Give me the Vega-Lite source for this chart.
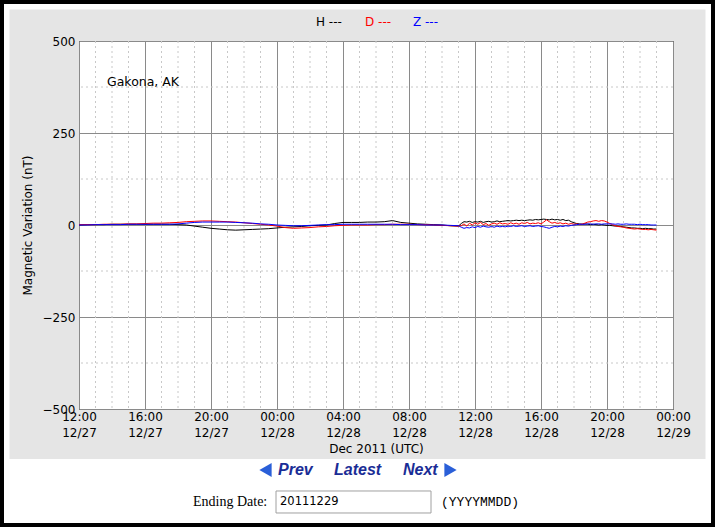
{
  "$schema": "https://vega.github.io/schema/vega-lite/v6.json",
  "autosize": {"type": "none"},
  "width": 594,
  "height": 368,
  "padding": {"left": 79, "top": 41, "right": 42, "bottom": 118},
  "background": "#e5e5e5",
  "config": {
    "view": {"stroke": "black", "strokeWidth": 1, "fill": "white"},
    "font": "DejaVu Sans"
  },
  "layer": [
    {
      "data": {"values": [
        {"t": "2011-12-27T13:00:00Z"}, {"t": "2011-12-27T14:00:00Z"}, {"t": "2011-12-27T15:00:00Z"},
        {"t": "2011-12-27T17:00:00Z"}, {"t": "2011-12-27T18:00:00Z"}, {"t": "2011-12-27T19:00:00Z"},
        {"t": "2011-12-27T21:00:00Z"}, {"t": "2011-12-27T22:00:00Z"}, {"t": "2011-12-27T23:00:00Z"},
        {"t": "2011-12-28T01:00:00Z"}, {"t": "2011-12-28T02:00:00Z"}, {"t": "2011-12-28T03:00:00Z"},
        {"t": "2011-12-28T05:00:00Z"}, {"t": "2011-12-28T06:00:00Z"}, {"t": "2011-12-28T07:00:00Z"},
        {"t": "2011-12-28T09:00:00Z"}, {"t": "2011-12-28T10:00:00Z"}, {"t": "2011-12-28T11:00:00Z"},
        {"t": "2011-12-28T13:00:00Z"}, {"t": "2011-12-28T14:00:00Z"}, {"t": "2011-12-28T15:00:00Z"},
        {"t": "2011-12-28T17:00:00Z"}, {"t": "2011-12-28T18:00:00Z"}, {"t": "2011-12-28T19:00:00Z"},
        {"t": "2011-12-28T21:00:00Z"}, {"t": "2011-12-28T22:00:00Z"}, {"t": "2011-12-28T23:00:00Z"}
      ]},
      "mark": {"type": "rule", "color": "#c8c8c8", "strokeWidth": 1, "strokeDash": [2, 3]},
      "encoding": {"x": {"field": "t", "type": "temporal"}}
    },
    {
      "data": {"values": [{"v": -375}, {"v": -125}, {"v": 125}, {"v": 375}]},
      "mark": {"type": "rule", "color": "#c8c8c8", "strokeWidth": 1, "strokeDash": [2, 3]},
      "encoding": {"y": {"field": "v", "type": "quantitative"}}
    },
    {
      "data": {
        "values": [
          {"t": "2011-12-27T12:00:00Z", "H": 0, "D": 1, "Z": 0},
          {"t": "2011-12-27T12:30:00Z", "H": 1, "D": 1, "Z": 0},
          {"t": "2011-12-27T13:00:00Z", "H": 1, "D": 1, "Z": 1},
          {"t": "2011-12-27T13:30:00Z", "H": 1, "D": 2, "Z": 1},
          {"t": "2011-12-27T14:00:00Z", "H": 2, "D": 2, "Z": 1},
          {"t": "2011-12-27T14:30:00Z", "H": 2, "D": 2, "Z": 1},
          {"t": "2011-12-27T15:00:00Z", "H": 2, "D": 3, "Z": 2},
          {"t": "2011-12-27T15:30:00Z", "H": 2, "D": 3, "Z": 2},
          {"t": "2011-12-27T16:00:00Z", "H": 2, "D": 4, "Z": 2},
          {"t": "2011-12-27T16:30:00Z", "H": 2, "D": 5, "Z": 2},
          {"t": "2011-12-27T17:00:00Z", "H": 2, "D": 5, "Z": 2},
          {"t": "2011-12-27T17:30:00Z", "H": 2, "D": 6, "Z": 2},
          {"t": "2011-12-27T18:00:00Z", "H": 1, "D": 7, "Z": 3},
          {"t": "2011-12-27T18:30:00Z", "H": 0, "D": 9, "Z": 5},
          {"t": "2011-12-27T19:00:00Z", "H": -3, "D": 10, "Z": 7},
          {"t": "2011-12-27T19:30:00Z", "H": -6, "D": 11, "Z": 8},
          {"t": "2011-12-27T20:00:00Z", "H": -9, "D": 11, "Z": 8},
          {"t": "2011-12-27T20:30:00Z", "H": -11, "D": 10, "Z": 8},
          {"t": "2011-12-27T21:00:00Z", "H": -13, "D": 9, "Z": 8},
          {"t": "2011-12-27T21:30:00Z", "H": -14, "D": 8, "Z": 7},
          {"t": "2011-12-27T22:00:00Z", "H": -13, "D": 6, "Z": 6},
          {"t": "2011-12-27T22:30:00Z", "H": -12, "D": 4, "Z": 5},
          {"t": "2011-12-27T23:00:00Z", "H": -11, "D": 2, "Z": 3},
          {"t": "2011-12-27T23:30:00Z", "H": -10, "D": 0, "Z": 2},
          {"t": "2011-12-28T00:00:00Z", "H": -8, "D": -3, "Z": 0},
          {"t": "2011-12-28T00:30:00Z", "H": -6, "D": -7, "Z": -1},
          {"t": "2011-12-28T01:00:00Z", "H": -5, "D": -9, "Z": -2},
          {"t": "2011-12-28T01:30:00Z", "H": -4, "D": -8, "Z": -2},
          {"t": "2011-12-28T02:00:00Z", "H": -2, "D": -7, "Z": -1},
          {"t": "2011-12-28T02:30:00Z", "H": -1, "D": -5, "Z": 0},
          {"t": "2011-12-28T03:00:00Z", "H": 0, "D": -4, "Z": 1},
          {"t": "2011-12-28T03:30:00Z", "H": 4, "D": -2, "Z": 1},
          {"t": "2011-12-28T04:00:00Z", "H": 7, "D": -1, "Z": 2},
          {"t": "2011-12-28T04:30:00Z", "H": 7, "D": 0, "Z": 2},
          {"t": "2011-12-28T05:00:00Z", "H": 7, "D": 0, "Z": 2},
          {"t": "2011-12-28T05:30:00Z", "H": 8, "D": 0, "Z": 2},
          {"t": "2011-12-28T06:00:00Z", "H": 8, "D": 1, "Z": 2},
          {"t": "2011-12-28T06:30:00Z", "H": 9, "D": 1, "Z": 2},
          {"t": "2011-12-28T07:00:00Z", "H": 12, "D": 2, "Z": 2},
          {"t": "2011-12-28T07:30:00Z", "H": 7, "D": 2, "Z": 1},
          {"t": "2011-12-28T08:00:00Z", "H": 5, "D": 2, "Z": 1},
          {"t": "2011-12-28T08:30:00Z", "H": 3, "D": 1, "Z": 1},
          {"t": "2011-12-28T09:00:00Z", "H": 2, "D": 1, "Z": 0},
          {"t": "2011-12-28T09:30:00Z", "H": 1, "D": 0, "Z": 0},
          {"t": "2011-12-28T10:00:00Z", "H": 0, "D": -1, "Z": 0},
          {"t": "2011-12-28T10:30:00Z", "H": -2, "D": -2, "Z": -1},
          {"t": "2011-12-28T11:00:00Z", "H": -3, "D": -3, "Z": -2},
          {"t": "2011-12-28T11:10:00Z", "H": 4, "D": -2, "Z": -6},
          {"t": "2011-12-28T11:20:00Z", "H": 9, "D": 3, "Z": -9},
          {"t": "2011-12-28T11:30:00Z", "H": 8, "D": -3, "Z": -7},
          {"t": "2011-12-28T11:40:00Z", "H": 10, "D": 5, "Z": -8},
          {"t": "2011-12-28T11:50:00Z", "H": 7, "D": 0, "Z": -5},
          {"t": "2011-12-28T12:00:00Z", "H": 9, "D": 6, "Z": -7},
          {"t": "2011-12-28T12:10:00Z", "H": 8, "D": 2, "Z": -4},
          {"t": "2011-12-28T12:20:00Z", "H": 10, "D": 7, "Z": -6},
          {"t": "2011-12-28T12:30:00Z", "H": 7, "D": 1, "Z": -3},
          {"t": "2011-12-28T12:40:00Z", "H": 9, "D": 4, "Z": -5},
          {"t": "2011-12-28T12:50:00Z", "H": 10, "D": -1, "Z": -6},
          {"t": "2011-12-28T13:00:00Z", "H": 8, "D": 3, "Z": -4},
          {"t": "2011-12-28T13:10:00Z", "H": 9, "D": 5, "Z": -6},
          {"t": "2011-12-28T13:20:00Z", "H": 11, "D": 2, "Z": -3},
          {"t": "2011-12-28T13:30:00Z", "H": 9, "D": 6, "Z": -5},
          {"t": "2011-12-28T13:40:00Z", "H": 10, "D": 3, "Z": -4},
          {"t": "2011-12-28T13:50:00Z", "H": 11, "D": 4, "Z": -5},
          {"t": "2011-12-28T14:00:00Z", "H": 12, "D": 2, "Z": -3},
          {"t": "2011-12-28T14:10:00Z", "H": 11, "D": 6, "Z": -4},
          {"t": "2011-12-28T14:20:00Z", "H": 12, "D": 3, "Z": -2},
          {"t": "2011-12-28T14:30:00Z", "H": 13, "D": 5, "Z": -4},
          {"t": "2011-12-28T14:40:00Z", "H": 12, "D": 2, "Z": -3},
          {"t": "2011-12-28T14:50:00Z", "H": 13, "D": 6, "Z": -2},
          {"t": "2011-12-28T15:00:00Z", "H": 12, "D": 4, "Z": -4},
          {"t": "2011-12-28T15:10:00Z", "H": 13, "D": 7, "Z": -3},
          {"t": "2011-12-28T15:20:00Z", "H": 14, "D": 3, "Z": -2},
          {"t": "2011-12-28T15:30:00Z", "H": 13, "D": 5, "Z": -4},
          {"t": "2011-12-28T15:40:00Z", "H": 15, "D": 4, "Z": -3},
          {"t": "2011-12-28T15:50:00Z", "H": 14, "D": 6, "Z": -2},
          {"t": "2011-12-28T16:00:00Z", "H": 15, "D": 3, "Z": -4},
          {"t": "2011-12-28T16:10:00Z", "H": 16, "D": 8, "Z": -5},
          {"t": "2011-12-28T16:20:00Z", "H": 15, "D": 14, "Z": -7},
          {"t": "2011-12-28T16:30:00Z", "H": 14, "D": 9, "Z": -9},
          {"t": "2011-12-28T16:40:00Z", "H": 16, "D": 5, "Z": -6},
          {"t": "2011-12-28T16:50:00Z", "H": 14, "D": 7, "Z": -4},
          {"t": "2011-12-28T17:00:00Z", "H": 15, "D": 4, "Z": -5},
          {"t": "2011-12-28T17:10:00Z", "H": 13, "D": 6, "Z": -3},
          {"t": "2011-12-28T17:20:00Z", "H": 15, "D": 3, "Z": -4},
          {"t": "2011-12-28T17:30:00Z", "H": 12, "D": 5, "Z": -2},
          {"t": "2011-12-28T17:40:00Z", "H": 13, "D": 2, "Z": -3},
          {"t": "2011-12-28T17:50:00Z", "H": 9, "D": 4, "Z": -1},
          {"t": "2011-12-28T18:00:00Z", "H": 6, "D": 2, "Z": 0},
          {"t": "2011-12-28T18:10:00Z", "H": 4, "D": 3, "Z": 1},
          {"t": "2011-12-28T18:20:00Z", "H": 3, "D": 1, "Z": 2},
          {"t": "2011-12-28T18:30:00Z", "H": 2, "D": 3, "Z": 2},
          {"t": "2011-12-28T18:40:00Z", "H": 3, "D": 5, "Z": 2},
          {"t": "2011-12-28T18:50:00Z", "H": 2, "D": 8, "Z": 3},
          {"t": "2011-12-28T19:00:00Z", "H": 1, "D": 9, "Z": 3},
          {"t": "2011-12-28T19:10:00Z", "H": 2, "D": 11, "Z": 2},
          {"t": "2011-12-28T19:20:00Z", "H": 1, "D": 12, "Z": 3},
          {"t": "2011-12-28T19:30:00Z", "H": 0, "D": 10, "Z": 3},
          {"t": "2011-12-28T19:40:00Z", "H": 1, "D": 12, "Z": 2},
          {"t": "2011-12-28T19:50:00Z", "H": 0, "D": 11, "Z": 3},
          {"t": "2011-12-28T20:00:00Z", "H": -1, "D": 8, "Z": 3},
          {"t": "2011-12-28T20:10:00Z", "H": -1, "D": 4, "Z": 3},
          {"t": "2011-12-28T20:20:00Z", "H": -2, "D": 1, "Z": 3},
          {"t": "2011-12-28T20:30:00Z", "H": -3, "D": -2, "Z": 2},
          {"t": "2011-12-28T20:40:00Z", "H": -3, "D": -4, "Z": 3},
          {"t": "2011-12-28T20:50:00Z", "H": -4, "D": -5, "Z": 2},
          {"t": "2011-12-28T21:00:00Z", "H": -5, "D": -6, "Z": 2},
          {"t": "2011-12-28T21:10:00Z", "H": -6, "D": -8, "Z": 3},
          {"t": "2011-12-28T21:20:00Z", "H": -7, "D": -9, "Z": 2},
          {"t": "2011-12-28T21:30:00Z", "H": -8, "D": -10, "Z": 2},
          {"t": "2011-12-28T21:40:00Z", "H": -8, "D": -11, "Z": 2},
          {"t": "2011-12-28T21:50:00Z", "H": -9, "D": -10, "Z": 1},
          {"t": "2011-12-28T22:00:00Z", "H": -9, "D": -11, "Z": 2},
          {"t": "2011-12-28T22:10:00Z", "H": -10, "D": -12, "Z": 1},
          {"t": "2011-12-28T22:20:00Z", "H": -9, "D": -12, "Z": 1},
          {"t": "2011-12-28T22:30:00Z", "H": -10, "D": -13, "Z": 1},
          {"t": "2011-12-28T22:40:00Z", "H": -10, "D": -12, "Z": 0},
          {"t": "2011-12-28T22:50:00Z", "H": -11, "D": -13, "Z": 0},
          {"t": "2011-12-28T23:00:00Z", "H": -11, "D": -14, "Z": 0}
        ]
      },
      "transform": [{"fold": ["H", "D", "Z"], "as": ["comp", "v"]}],
      "mark": {"type": "line", "strokeWidth": 1},
      "encoding": {
        "x": {
          "field": "t", "type": "temporal",
          "scale": {"type": "utc", "domain": [
            {"year": 2011, "month": 12, "date": 27, "hours": 12, "utc": true},
            {"year": 2011, "month": 12, "date": 29, "hours": 0, "utc": true}
          ]},
          "axis": {
            "title": "Dec 2011 (UTC)",
            "values": [
              {"year": 2011, "month": 12, "date": 27, "hours": 12, "utc": true},
              {"year": 2011, "month": 12, "date": 27, "hours": 16, "utc": true},
              {"year": 2011, "month": 12, "date": 27, "hours": 20, "utc": true},
              {"year": 2011, "month": 12, "date": 28, "hours": 0, "utc": true},
              {"year": 2011, "month": 12, "date": 28, "hours": 4, "utc": true},
              {"year": 2011, "month": 12, "date": 28, "hours": 8, "utc": true},
              {"year": 2011, "month": 12, "date": 28, "hours": 12, "utc": true},
              {"year": 2011, "month": 12, "date": 28, "hours": 16, "utc": true},
              {"year": 2011, "month": 12, "date": 28, "hours": 20, "utc": true},
              {"year": 2011, "month": 12, "date": 29, "hours": 0, "utc": true}
            ],
            "labelExpr": "[utcFormat(datum.value, '%H:%M'), utcFormat(datum.value, '%m/%d')]",
            "labelFlush": false, "labelOverlap": false, "labelBound": false,
            "ticks": false, "domain": false, "grid": true,
            "gridColor": "#8a8a8a",
            "labelFont": "DejaVu Sans", "labelFontSize": 12, "labelColor": "black", "labelLineHeight": 16, "labelPadding": 2,
            "titleFont": "DejaVu Sans", "titleFontSize": 12, "titleFontWeight": "normal", "titleColor": "black", "titlePadding": 5
          }
        },
        "y": {
          "field": "v", "type": "quantitative",
          "scale": {"domain": [-500, 500], "nice": false, "zero": false},
          "axis": {
            "title": "Magnetic Variation (nT)",
            "values": [-500, -250, 0, 250, 500],
            "labelExpr": "datum.value < 0 ? '\u2212' + abs(datum.value) : '' + datum.value",
            "labelOverlap": false, "labelBound": false, "labelFlush": false,
            "ticks": false, "domain": false, "grid": true,
            "gridColor": "#8a8a8a",
            "labelFont": "DejaVu Sans", "labelFontSize": 12, "labelColor": "black", "labelPadding": 4,
            "titleFont": "DejaVu Sans", "titleFontSize": 12, "titleFontWeight": "normal", "titleColor": "black", "titlePadding": 8
          }
        },
        "color": {
          "field": "comp", "type": "nominal",
          "scale": {"domain": ["H", "D", "Z"], "range": ["black", "red", "blue"]},
          "legend": null
        }
      }
    },
    {
      "data": {"values": [{}]},
      "mark": {"type": "rect", "fill": "white", "strokeWidth": 0},
      "encoding": {
        "x": {"datum": {"year": 2011, "month": 12, "date": 27, "hours": 7, "minutes": 12, "seconds": 44, "utc": true}, "type": "temporal"},
        "x2": {"datum": {"year": 2011, "month": 12, "date": 29, "hours": 2, "minutes": 32, "seconds": 44, "utc": true}},
        "y": {"datum": -635.9, "type": "quantitative"},
        "y2": {"datum": -820.7}
      }
    },
    {
      "data": {"values": [{}]},
      "mark": {"type": "rect", "filled": false, "stroke": "white", "strokeWidth": 19},
      "encoding": {
        "x": {"datum": {"year": 2011, "month": 12, "date": 27, "hours": 7, "minutes": 12, "seconds": 44, "utc": true}, "type": "temporal"},
        "x2": {"datum": {"year": 2011, "month": 12, "date": 29, "hours": 2, "minutes": 32, "seconds": 44, "utc": true}},
        "y": {"datum": 611.4, "type": "quantitative"},
        "y2": {"datum": -820.7}
      }
    },
    {
      "data": {"values": [{}]},
      "mark": {"type": "rect", "filled": false, "stroke": "black", "strokeWidth": 8},
      "encoding": {
        "x": {"datum": {"year": 2011, "month": 12, "date": 27, "hours": 7, "minutes": 12, "seconds": 44, "utc": true}, "type": "temporal"},
        "x2": {"datum": {"year": 2011, "month": 12, "date": 29, "hours": 2, "minutes": 32, "seconds": 44, "utc": true}},
        "y": {"datum": 611.4, "type": "quantitative"},
        "y2": {"datum": -820.7}
      }
    },
    {
      "data": {"values": [{"label": "Gakona, AK"}]},
      "mark": {"type": "text", "align": "left", "baseline": "middle", "font": "DejaVu Sans", "fontSize": 12.5, "color": "black"},
      "encoding": {
        "x": {"datum": {"year": 2011, "month": 12, "date": 27, "hours": 13, "minutes": 41, "seconds": 49, "utc": true}, "type": "temporal"},
        "y": {"datum": 388.6, "type": "quantitative"},
        "text": {"field": "label"}
      }
    },
    {
      "data": {"values": [{"label": "H ---"}]},
      "mark": {"type": "text", "align": "left", "baseline": "middle", "font": "DejaVu Sans", "fontSize": 12, "color": "black"},
      "encoding": {
        "x": {"datum": {"year": 2011, "month": 12, "date": 28, "hours": 2, "minutes": 21, "seconds": 49, "utc": true}, "type": "temporal"},
        "y": {"datum": 551.6, "type": "quantitative"},
        "text": {"field": "label"}
      }
    },
    {
      "data": {"values": [{"label": "D ---"}]},
      "mark": {"type": "text", "align": "left", "baseline": "middle", "font": "DejaVu Sans", "fontSize": 12, "color": "red"},
      "encoding": {
        "x": {"datum": {"year": 2011, "month": 12, "date": 28, "hours": 5, "minutes": 20, "seconds": 0, "utc": true}, "type": "temporal"},
        "y": {"datum": 551.6, "type": "quantitative"},
        "text": {"field": "label"}
      }
    },
    {
      "data": {"values": [{"label": "Z ---"}]},
      "mark": {"type": "text", "align": "left", "baseline": "middle", "font": "DejaVu Sans", "fontSize": 12, "color": "blue"},
      "encoding": {
        "x": {"datum": {"year": 2011, "month": 12, "date": 28, "hours": 8, "minutes": 14, "seconds": 33, "utc": true}, "type": "temporal"},
        "y": {"datum": 551.6, "type": "quantitative"},
        "text": {"field": "label"}
      }
    },
    {
      "data": {"values": [{}]},
      "mark": {"type": "point", "shape": "triangle-left", "filled": true, "size": 200, "color": "#2a5fd8", "opacity": 1},
      "encoding": {
        "x": {"datum": {"year": 2011, "month": 12, "date": 27, "hours": 23, "minutes": 18, "seconds": 11, "utc": true}, "type": "temporal"},
        "y": {"datum": -665.8, "type": "quantitative"}
      }
    },
    {
      "data": {"values": [{}]},
      "mark": {"type": "point", "shape": "triangle-right", "filled": true, "size": 200, "color": "#2a5fd8", "opacity": 1},
      "encoding": {
        "x": {"datum": {"year": 2011, "month": 12, "date": 28, "hours": 10, "minutes": 30, "seconds": 55, "utc": true}, "type": "temporal"},
        "y": {"datum": -665.8, "type": "quantitative"}
      }
    },
    {
      "data": {"values": [{"label": "Prev"}]},
      "mark": {"type": "text", "align": "left", "baseline": "middle", "font": "Liberation Sans", "fontSize": 16, "fontWeight": "bold", "fontStyle": "italic", "color": "#1a2d96"},
      "encoding": {
        "x": {"datum": {"year": 2011, "month": 12, "date": 28, "hours": 0, "minutes": 3, "seconds": 38, "utc": true}, "type": "temporal"},
        "y": {"datum": -665.8, "type": "quantitative"},
        "text": {"field": "label"}
      }
    },
    {
      "data": {"values": [{"label": "Latest"}]},
      "mark": {"type": "text", "align": "left", "baseline": "middle", "font": "Liberation Sans", "fontSize": 16, "fontWeight": "bold", "fontStyle": "italic", "color": "#1a2d96"},
      "encoding": {
        "x": {"datum": {"year": 2011, "month": 12, "date": 28, "hours": 3, "minutes": 27, "seconds": 16, "utc": true}, "type": "temporal"},
        "y": {"datum": -665.8, "type": "quantitative"},
        "text": {"field": "label"}
      }
    },
    {
      "data": {"values": [{"label": "Next"}]},
      "mark": {"type": "text", "align": "left", "baseline": "middle", "font": "Liberation Sans", "fontSize": 16, "fontWeight": "bold", "fontStyle": "italic", "color": "#1a2d96"},
      "encoding": {
        "x": {"datum": {"year": 2011, "month": 12, "date": 28, "hours": 7, "minutes": 38, "seconds": 11, "utc": true}, "type": "temporal"},
        "y": {"datum": -665.8, "type": "quantitative"},
        "text": {"field": "label"}
      }
    },
    {
      "data": {"values": [{"label": "Ending Date:"}]},
      "mark": {"type": "text", "align": "left", "baseline": "middle", "font": "Liberation Serif", "fontSize": 14, "color": "black"},
      "encoding": {
        "x": {"datum": {"year": 2011, "month": 12, "date": 27, "hours": 18, "minutes": 54, "seconds": 33, "utc": true}, "type": "temporal"},
        "y": {"datum": -752.7, "type": "quantitative"},
        "text": {"field": "label"}
      }
    },
    {
      "data": {"values": [{}]},
      "mark": {"type": "rect", "fill": "white", "stroke": "#a0a0a0", "strokeWidth": 1},
      "encoding": {
        "x": {"datum": {"year": 2011, "month": 12, "date": 27, "hours": 23, "minutes": 56, "seconds": 22, "utc": true}, "type": "temporal"},
        "x2": {"datum": {"year": 2011, "month": 12, "date": 28, "hours": 9, "minutes": 20, "seconds": 0, "utc": true}},
        "y": {"datum": -722.8, "type": "quantitative"},
        "y2": {"datum": -782.6}
      }
    },
    {
      "data": {"values": [{"label": "20111229"}]},
      "mark": {"type": "text", "align": "left", "baseline": "middle", "font": "DejaVu Sans", "fontSize": 11.5, "color": "black"},
      "encoding": {
        "x": {"datum": {"year": 2011, "month": 12, "date": 28, "hours": 0, "minutes": 10, "seconds": 55, "utc": true}, "type": "temporal"},
        "y": {"datum": -752.7, "type": "quantitative"},
        "text": {"field": "label"}
      }
    },
    {
      "data": {"values": [{"label": "(YYYYMMDD)"}]},
      "mark": {"type": "text", "align": "left", "baseline": "middle", "font": "Liberation Mono", "fontSize": 13, "color": "black"},
      "encoding": {
        "x": {"datum": {"year": 2011, "month": 12, "date": 28, "hours": 9, "minutes": 56, "seconds": 22, "utc": true}, "type": "temporal"},
        "y": {"datum": -752.7, "type": "quantitative"},
        "text": {"field": "label"}
      }
    }
  ]
}
